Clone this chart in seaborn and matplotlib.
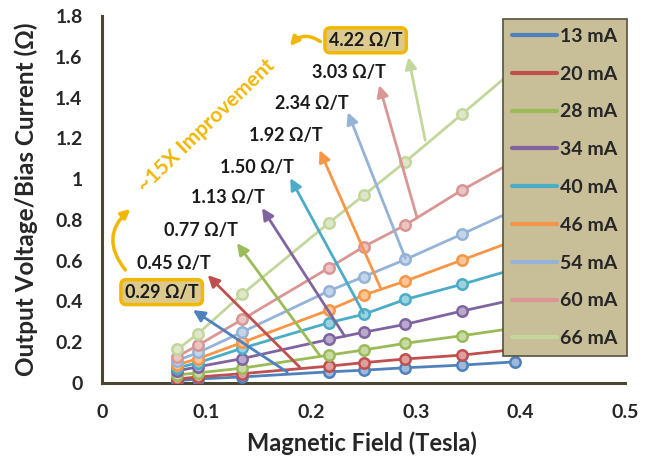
import numpy as np
import pandas as pd
import matplotlib
matplotlib.use("Agg")
import matplotlib.pyplot as plt
import seaborn as sns
from matplotlib.lines import Line2D
from matplotlib.patches import FancyArrowPatch
from matplotlib.ticker import FuncFormatter
import matplotlib.colors as mcolors

# ---------------- data ----------------
field = [0.072, 0.092, 0.134, 0.217, 0.25, 0.29, 0.344, 0.395]
currents = ["13 mA", "20 mA", "28 mA", "34 mA", "40 mA", "46 mA", "54 mA", "60 mA", "66 mA"]
r13 = [0.012, 0.020, 0.030, 0.055, 0.063, 0.075, 0.088, 0.104]
r20 = [0.020, 0.030, 0.046, 0.083, 0.100, 0.118, 0.137, 0.165]
r28 = [0.040, 0.050, 0.073, 0.137, 0.162, 0.195, 0.232, 0.270]
r34 = [0.060, 0.080, 0.120, 0.214, 0.249, 0.288, 0.353, 0.410]
r40 = [0.075, 0.100, 0.171, 0.296, 0.337, 0.410, 0.484, 0.560]
r46 = [0.090, 0.120, 0.199, 0.358, 0.431, 0.500, 0.603, 0.700]
r54 = [0.110, 0.150, 0.250, 0.452, 0.521, 0.606, 0.730, 0.850]
r60 = [0.130, 0.186, 0.312, 0.565, 0.668, 0.775, 0.946, 1.090]
r66 = [0.165, 0.243, 0.436, 0.786, 0.920, 1.085, 1.318, 1.540]
sensitivities = ["0.29 Ω/T", "0.45 Ω/T", "0.77 Ω/T", "1.13 Ω/T", "1.50 Ω/T",
                 "1.92 Ω/T", "2.34 Ω/T", "3.03 Ω/T", "4.22 Ω/T"]
improvement = "~15X Improvement"
x_ticks = [0, 0.1, 0.2, 0.3, 0.4, 0.5]
y_ticks = [0, 0.2, 0.4, 0.6, 0.8, 1, 1.2, 1.4, 1.6, 1.8]

# annotation geometry (label centre, arrow head, arrow tail) in data coords
label_xy = [(0.057, 0.446), (0.069, 0.588), (0.095, 0.750), (0.120, 0.912), (0.148, 1.059),
            (0.176, 1.216), (0.201, 1.373), (0.236, 1.525), (0.252, 1.681)]
head_xy = [(0.087, 0.358), (0.101, 0.529), (0.129, 0.686), (0.153, 0.858), (0.180, 1.005),
           (0.208, 1.142), (0.235, 1.328), (0.265, 1.461), (0.293, 1.598)]
tail_xy = [(0.177, 0.054), (0.189, 0.078), (0.208, 0.137), (0.232, 0.230), (0.250, 0.343),
           (0.266, 0.470), (0.290, 0.612), (0.301, 0.814), (0.309, 1.191)]

colors = ["#4F81BD", "#C0504D", "#9BBB59", "#8064A2", "#4BACC6",
          "#F79646", "#95B3D7", "#D99694", "#C3D69B"]

all_vals = [r13, r20, r28, r34, r40, r46, r54, r60, r66]
df = pd.DataFrame({
    "field": np.tile(field, len(currents)),
    "ratio": np.concatenate(all_vals),
    "current": np.repeat(currents, len(field)),
})

# ---------------- style ----------------
sns.set_style("white")
plt.rcParams['font.family'] = ['Lato', 'DejaVu Sans']
plt.rcParams['font.weight'] = 'bold'
axis_col = "#4A4630"
gold = "#F2B705"

fig = plt.figure(figsize=(6.5, 4.66), dpi=100)
ax = fig.add_axes([0.157, 0.178, 0.8045, 0.7876])

sns.lineplot(data=df, x="field", y="ratio", hue="current", palette=colors,
             hue_order=currents, marker="o", markersize=7.5, markeredgewidth=1.8,
             linewidth=2.0, legend=False, ax=ax, zorder=3)

for line, c in zip(ax.get_lines(), colors):
    light = mcolors.to_rgb(c)
    light = tuple(0.55 * v + 0.45 for v in light)
    line.set_markerfacecolor(light)
    line.set_markeredgecolor(c)

ax.set_xlim(0, 0.5)
ax.set_ylim(0, 1.8)
ax.set_xticks(x_ticks)
ax.set_yticks(y_ticks)
fmt = FuncFormatter(lambda v, p: f"{v:g}")
ax.xaxis.set_major_formatter(fmt)
ax.yaxis.set_major_formatter(fmt)
for s in ["top", "right"]:
    ax.spines[s].set_visible(False)
for s in ["left", "bottom"]:
    ax.spines[s].set_color(axis_col)
    ax.spines[s].set_linewidth(2.2)
ax.tick_params(axis="both", direction="out", length=4, width=1.8, color=axis_col,
               labelsize=14)
ax.tick_params(axis="y", pad=10)
ax.tick_params(axis="x", pad=11)
for lab in ax.get_xticklabels() + ax.get_yticklabels():
    lab.set_fontweight("bold")
ax.set_xlabel("Magnetic Field (Tesla)", fontsize=17, fontweight="bold")
ax.set_ylabel("Output Voltage/Bias Current (Ω)", fontsize=17.5, fontweight="bold")
ax.xaxis.set_label_coords(0.497, -0.163)
ax.xaxis.label.set_va("center")
ax.yaxis.set_label_coords(-0.145, 0.5)
ax.yaxis.label.set_va("center")

# arrows and slope labels
for (hx, hy), (tx, ty), c in zip(head_xy, tail_xy, colors):
    ax.annotate("", xy=(hx, hy), xytext=(tx, ty),
                arrowprops=dict(arrowstyle="-|>", color=c, lw=2.0, mutation_scale=17,
                                shrinkA=0, shrinkB=0), zorder=4)
for i, ((lx, ly), txt) in enumerate(zip(label_xy, sensitivities)):
    boxed = i in (0, len(sensitivities) - 1)
    bbox = dict(boxstyle="round,pad=0.22,rounding_size=0.3", fc="#DCC98D", ec=gold, lw=2.5) if boxed else None
    ax.text(lx, ly, txt, ha="center", va="center", fontsize=13, fontweight="bold",
            color="#1a1a1a", bbox=bbox, zorder=6)

# improvement annotation
ax.text(0.0995, 1.26, improvement, rotation=44, ha="center", va="center",
        fontsize=15, fontweight="bold", color=gold, zorder=6)
a1 = FancyArrowPatch((0.024, 0.544), (0.029, 0.863), connectionstyle="arc3,rad=-0.5",
                     arrowstyle="-|>", mutation_scale=13, color=gold, lw=2.5, zorder=6)
ax.add_patch(a1)
a2 = FancyArrowPatch((0.211, 1.667), (0.178, 1.642), connectionstyle="arc3,rad=0.5",
                     arrowstyle="-|>", mutation_scale=13, color=gold, lw=2.5, zorder=6)
ax.add_patch(a2)

# legend
handles = [Line2D([], [], color=c, lw=3) for c in colors]
leg = ax.legend(handles, currents, loc="upper right", bbox_to_anchor=(1.003, 0.992),
                frameon=True, fancybox=False, facecolor="#C8BE98", edgecolor="#55523f",
                framealpha=1, fontsize=14, handlelength=2.3, handletextpad=0.2,
                labelspacing=1.07, borderpad=0.45, borderaxespad=0)
leg.get_frame().set_linewidth(1.2)
leg.set_zorder(10)
for t in leg.get_texts():
    t.set_fontweight("bold")

fig.savefig("out.png", dpi=100, facecolor="white")
